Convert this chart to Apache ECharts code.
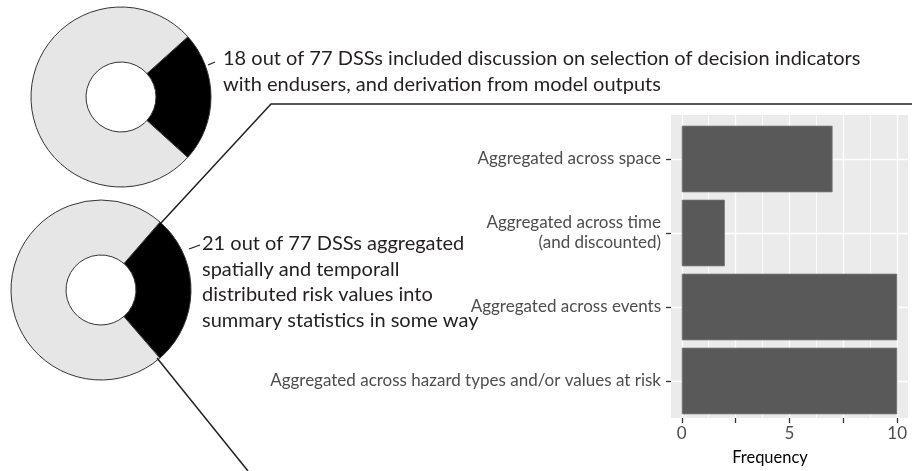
<!DOCTYPE html>
<html>
<head>
<meta charset="utf-8">
<script src="https://cdn.jsdelivr.net/npm/echarts@6/dist/echarts.min.js"></script>
<style>
  html, body { margin: 0; padding: 0; background: #fff; }
  #chart { width: 912px; height: 471px; }
</style>
</head>
<body>
<div id="chart"></div>
<script>
// data
const categories = [
  'Aggregated across space',
  'Aggregated across time\n(and discounted)',
  'Aggregated across events',
  'Aggregated across hazard types and/or values at risk',
];
const frequency = [7, 2, 10, 10];
const xTicks = [0, 2.5, 5, 7.5, 10];
const xLabels = [0, 5, 10];
const xMinorGrid = [1.25, 3.75, 6.25, 8.75];
const donutTop = [
  { name: 'included', value: 18 },
  { name: 'not included', value: 59 },
];
const donutBottom = [
  { name: 'aggregated', value: 21 },
  { name: 'not aggregated', value: 56 },
];
const noteTop = [
  '18 out of 77 DSSs included discussion on selection of decision indicators',
  'with endusers, and derivation from model outputs',
];
const noteBottom = [
  '21 out of 77 DSSs aggregated',
  'spatially and temporall',
  'distributed risk values into',
  'summary statistics in some way',
];

const chart = echarts.init(document.getElementById('chart'));
const ink = '#231F20';
const axisGrey = '#4D4D4D';

const gridLines = xTicks.map((v) => ({ xAxis: v, lineStyle: { width: 1.3 } }))
  .concat(xMinorGrid.map((v) => ({ xAxis: v, lineStyle: { width: 0.8 } })));

chart.setOption({
  animation: false,
  color: ['#000000', '#E6E6E6'],
  textStyle: { fontFamily: 'Lato' },
  grid: [
    { left: 671, right: 4, top: 115, bottom: 46, show: true, backgroundColor: '#EBEBEB', borderWidth: 0 },
    { left: 671, right: 4, top: 122, bottom: 53 },
  ],
  xAxis: [
    {
      gridIndex: 0,
      type: 'value',
      min: -0.5,
      max: 10.5,
      axisLine: { show: false, onZero: false },
      axisTick: { show: true, customValues: xTicks, length: 5, lineStyle: { color: '#333', width: 1.3 } },
      axisLabel: { customValues: xLabels, margin: 7, fontSize: 17, color: axisGrey, fontFamily: 'Lato' },
      splitLine: { show: false },
      name: 'Frequency',
      nameLocation: 'middle',
      nameGap: 31,
      nameTextStyle: { fontSize: 16.5, color: '#000', fontFamily: 'Lato', padding: [0, 39, 0, 0] },
    },
    { gridIndex: 1, type: 'value', min: -0.5, max: 10.5, show: false },
  ],
  yAxis: [
    { gridIndex: 0, type: 'value', min: 0, max: 1, show: false },
    {
      gridIndex: 1,
      type: 'category',
      inverse: true,
      data: categories,
      axisLine: { show: false, onZero: false },
      axisTick: { show: true, alignWithLabel: true, length: 5, lineStyle: { color: '#333', width: 1.3 } },
      axisLabel: { margin: 10, fontSize: 17, color: axisGrey, lineHeight: 20, fontFamily: 'Lato' },
      splitLine: { show: false },
    },
  ],
  series: [
    {
      type: 'pie',
      silent: true,
      center: [121, 97],
      radius: [35, 90],
      startAngle: 42,
      label: { show: false },
      labelLine: { show: false },
      itemStyle: { borderColor: '#333', borderWidth: 1 },
      data: donutTop,
    },
    {
      type: 'pie',
      silent: true,
      center: [101, 290],
      radius: [35, 90],
      startAngle: 49,
      label: { show: false },
      labelLine: { show: false },
      itemStyle: { borderColor: '#333', borderWidth: 1 },
      data: donutBottom,
    },
    {
      // vertical panel grid lines
      type: 'line',
      xAxisIndex: 0,
      yAxisIndex: 0,
      data: [],
      silent: true,
      z: 1,
      markLine: {
        silent: true,
        symbol: 'none',
        z: 1,
        label: { show: false },
        lineStyle: { color: '#FFFFFF', type: 'solid' },
        data: gridLines,
      },
    },
    {
      // horizontal panel grid lines
      type: 'line',
      xAxisIndex: 1,
      yAxisIndex: 1,
      data: [],
      silent: true,
      z: 1,
      markLine: {
        silent: true,
        symbol: 'none',
        z: 1,
        label: { show: false },
        lineStyle: { color: '#FFFFFF', type: 'solid', width: 1.3 },
        data: categories.map((c) => ({ yAxis: c })),
      },
    },
    {
      type: 'bar',
      xAxisIndex: 1,
      yAxisIndex: 1,
      data: frequency,
      barWidth: '90%',
      z: 10,
      silent: true,
      itemStyle: { color: '#595959', borderColor: '#7A7A7A', borderWidth: 0.8 },
    },
  ],
  graphic: [
    { type: 'polyline', silent: true, z: 20, shape: { points: [[912, 104], [271, 104], [161, 223]] }, style: { stroke: ink, lineWidth: 1.5, fill: null } },
    { type: 'line', silent: true, z: 20, shape: { x1: 157, y1: 358, x2: 248, y2: 471 }, style: { stroke: ink, lineWidth: 1.5 } },
    { type: 'line', silent: true, z: 20, shape: { x1: 208, y1: 65, x2: 215, y2: 62 }, style: { stroke: ink, lineWidth: 1.3 } },
    { type: 'line', silent: true, z: 20, shape: { x1: 189, y1: 249, x2: 200, y2: 245 }, style: { stroke: ink, lineWidth: 1.3 } },
    {
      type: 'text', silent: true, z: 20, left: 223, top: 46,
      style: { text: noteTop.join('\n'), fill: ink, font: '20px Lato', lineHeight: 26 },
    },
    {
      type: 'text', silent: true, z: 20, left: 202, top: 231,
      style: { text: noteBottom.join('\n'), fill: ink, font: '20px Lato', lineHeight: 25.5 },
    },
  ],
});
</script>
</body>
</html>
